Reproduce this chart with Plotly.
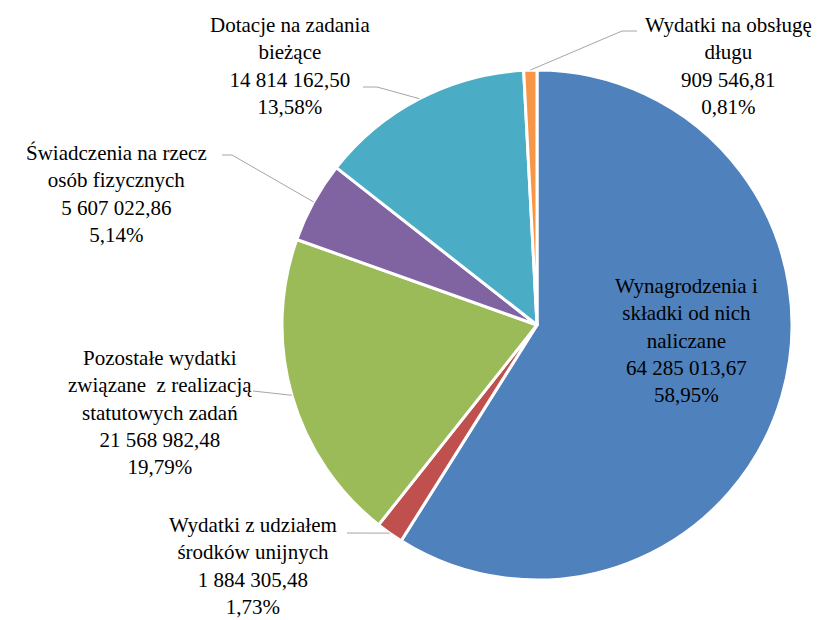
import math
import plotly.graph_objects as go

# ---- data ----
categories = [
    "Wynagrodzenia i<br>składki od nich<br>naliczane",
    "Wydatki z udziałem<br>środków unijnych",
    "Pozostałe wydatki<br>związane  z realizacją<br>statutowych zadań",
    "Świadczenia na rzecz<br>osób fizycznych",
    "Dotacje na zadania<br>bieżące",
    "Wydatki na obsługę<br>długu",
]
values = [64285013.67, 1884305.48, 21568982.48, 5607022.86, 14814162.50, 909546.81]
value_labels = ["64 285 013,67", "1 884 305,48", "21 568 982,48", "5 607 022,86", "14 814 162,50", "909 546,81"]
pct_labels = ["58,95%", "1,73%", "19,79%", "5,14%", "13,58%", "0,81%"]
colors = ["#4F81BD", "#C0504D", "#9BBB59", "#8064A2", "#4BACC6", "#F79646"]

# ---- layout constants ----
W, H = 831, 620
CX, CY, R = 537, 325, 255
FONT = '"Liberation Serif", "DejaVu Serif", serif'
FS = 21

# label centres (px) and elbow points (px) ; None = inside label without leader
label_pos = [(686, 340), (253, 566), (160, 412), (116, 194), (290, 66), (728, 66)]
elbows = [None, [(347, 533)], [(253, 391)], [(222, 155), (232, 155)],
          [(363, 87), (377, 87)], [(637, 31), (622, 31)]]

fig = go.Figure(go.Pie(
    labels=[c.replace("<br>", " ") for c in categories],
    values=values,
    sort=False,
    direction="clockwise",
    rotation=0,
    marker=dict(colors=colors, line=dict(color="white", width=3)),
    textinfo="none",
    hoverinfo="label+value+percent",
    domain=dict(x=[(CX - R) / W, (CX + R) / W], y=[1 - (CY + R) / H, 1 - (CY - R) / H]),
    showlegend=False,
))

total = sum(values)
cum = 0.0
shapes = []
annotations = []
for i, v in enumerate(values):
    mid = (cum + v / 2) / total * 2 * math.pi
    cum += v
    ax_px = CX + R * math.sin(mid)
    ay_px = CY - R * math.cos(mid)
    lx, ly = label_pos[i]
    annotations.append(dict(
        x=lx / W, y=1 - ly / H, xref="paper", yref="paper",
        text=f"{categories[i]}<br>{value_labels[i]}<br>{pct_labels[i]}",
        showarrow=False, align="center", xanchor="center", yanchor="middle",
        font=dict(family=FONT, size=FS, color="#000000"),
    ))
    if elbows[i]:
        pts = elbows[i] + [(ax_px, ay_px)]
        path = "M " + " L ".join(f"{x / W},{1 - y / H}" for x, y in pts)
        shapes.append(dict(type="path", path=path, xref="paper", yref="paper",
                           line=dict(color="#A6A6A6", width=1)))

fig.update_layout(
    width=W, height=H,
    margin=dict(l=0, r=0, t=0, b=0),
    paper_bgcolor="white", plot_bgcolor="white",
    font=dict(family=FONT),
    shapes=shapes, annotations=annotations,
)
fig.write_html("out.html", config={"displayModeBar": False},
               post_script="document.body.style.margin='0';")
